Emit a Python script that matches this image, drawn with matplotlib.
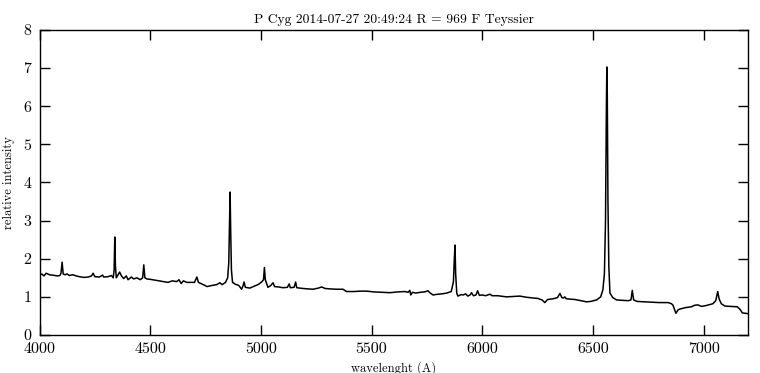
import matplotlib
matplotlib.use("Agg")
import matplotlib.pyplot as plt

plt.rcParams['font.family'] = ['cmr10', 'DejaVu Serif']
plt.rcParams['axes.unicode_minus'] = False
plt.rcParams['mathtext.fontset'] = 'cm'

wavelength = [4000, 4010, 4020, 4030, 4045, 4060, 4080, 4092, 4097, 4102, 4107, 4115, 4125, 4135,
              4150, 4165, 4180, 4200, 4220, 4235, 4242, 4250, 4270, 4285, 4290, 4310, 4325, 4333,
              4337, 4340, 4343, 4347, 4355, 4362, 4370, 4380, 4392, 4400, 4415, 4425, 4440, 4455,
              4466, 4471, 4476, 4485, 4500, 4520, 4540, 4558, 4580, 4600, 4620, 4630, 4640, 4650,
              4665, 4680, 4700, 4711, 4718, 4740, 4757, 4780, 4800, 4815, 4825, 4840, 4850, 4855,
              4858, 4861, 4864, 4867, 4872, 4885, 4900, 4913, 4920, 4924, 4930, 4950, 4970, 4990,
              5005, 5012, 5016, 5020, 5032, 5045, 5055, 5062, 5080, 5100, 5120, 5128, 5133, 5150,
              5157, 5162, 5190, 5210, 5236, 5260, 5275, 5290, 5310, 5340, 5371, 5387, 5420, 5450,
              5478, 5510, 5550, 5583, 5620, 5651, 5665, 5673, 5677, 5685, 5700, 5720, 5740, 5755,
              5765, 5778, 5800, 5820, 5840, 5860, 5870, 5874, 5877, 5880, 5885, 5890, 5905, 5915,
              5925, 5935, 5945, 5952, 5960, 5972, 5979, 5987, 6000, 6015, 6025, 6035, 6045, 6070,
              6110, 6140, 6170, 6200, 6230, 6250, 6270, 6283, 6295, 6320, 6340, 6351, 6360, 6367,
              6373, 6380, 6420, 6471, 6490, 6517, 6535, 6545, 6552, 6557, 6561, 6563, 6565, 6568,
              6572, 6577, 6590, 6607, 6630, 6660, 6672, 6678, 6684, 6700, 6735, 6760, 6800, 6840,
              6855, 6862, 6875, 6885, 6893, 6920, 6945, 6960, 6974, 6990, 7010, 7042, 7055, 7064,
              7070, 7080, 7096, 7120, 7152, 7165, 7175, 7200]

intensity = [1.57, 1.60, 1.55, 1.62, 1.58, 1.57, 1.55, 1.56, 1.62, 1.91, 1.60, 1.58, 1.60, 1.56,
             1.58, 1.55, 1.53, 1.51, 1.52, 1.55, 1.62, 1.53, 1.52, 1.57, 1.52, 1.53, 1.56, 1.50,
             1.70, 2.57, 1.80, 1.50, 1.58, 1.65, 1.55, 1.48, 1.55, 1.45, 1.52, 1.47, 1.50, 1.45,
             1.50, 1.84, 1.50, 1.47, 1.46, 1.44, 1.42, 1.40, 1.38, 1.42, 1.40, 1.45, 1.35, 1.42,
             1.38, 1.38, 1.38, 1.52, 1.38, 1.32, 1.27, 1.30, 1.32, 1.37, 1.32, 1.38, 1.50, 1.90,
             2.80, 3.75, 2.60, 1.70, 1.38, 1.33, 1.30, 1.20, 1.30, 1.39, 1.25, 1.23, 1.28, 1.33,
             1.40, 1.45, 1.77, 1.45, 1.25, 1.30, 1.37, 1.27, 1.26, 1.24, 1.25, 1.34, 1.24, 1.25,
             1.39, 1.24, 1.22, 1.21, 1.20, 1.23, 1.26, 1.22, 1.21, 1.20, 1.20, 1.14, 1.14, 1.15,
             1.15, 1.13, 1.12, 1.11, 1.13, 1.14, 1.12, 1.17, 1.05, 1.12, 1.10, 1.12, 1.13, 1.16,
             1.10, 1.05, 1.07, 1.08, 1.10, 1.14, 1.40, 2.00, 2.36, 1.60, 1.10, 1.02, 1.06, 1.05,
             1.08, 1.02, 1.05, 1.11, 1.03, 1.05, 1.16, 1.04, 1.05, 1.03, 1.05, 1.07, 1.03, 1.03,
             1.00, 1.01, 1.02, 0.99, 0.97, 0.96, 0.92, 0.85, 0.93, 0.95, 0.98, 1.09, 0.98, 0.97,
             1.00, 0.95, 0.93, 0.87, 0.88, 0.92, 1.00, 1.18, 1.60, 3.00, 6.00, 7.03, 6.30, 3.50,
             1.80, 1.10, 0.98, 0.92, 0.91, 0.90, 0.92, 1.17, 0.92, 0.88, 0.87, 0.86, 0.85, 0.85,
             0.82, 0.78, 0.57, 0.66, 0.68, 0.72, 0.74, 0.78, 0.79, 0.75, 0.77, 0.82, 0.90, 1.14,
             0.95, 0.82, 0.76, 0.75, 0.74, 0.67, 0.58, 0.56]

x_ticks = [4000, 4500, 5000, 5500, 6000, 6500, 7000]
y_ticks = [0, 1, 2, 3, 4, 5, 6, 7, 8]

fig = plt.figure(figsize=(7.6, 3.73), dpi=100)
ax = fig.add_axes([0.052, 0.1019, 0.932, 0.8177])
ax.plot(wavelength, intensity, color='black', linewidth=1.1)
ax.set_xlim(4000, 7200)
ax.set_ylim(0, 8)
ax.set_xticks(x_ticks)
ax.set_yticks(y_ticks)
ax.tick_params(direction='in', length=7, width=1, top=True, right=True, labelsize=11.5, pad=5)
ax.tick_params(axis='y', pad=6)
for s in ax.spines.values():
    s.set_linewidth(1)
ax.set_title('P Cyg 2014-07-27 20:49:24 R = 969 F Teyssier', fontsize=9.8, pad=5)
ax.set_xlabel('wavelenght (A)', fontsize=9, labelpad=4)
ax.set_ylabel('relative intensity', fontsize=9, labelpad=6)
fig.savefig('out.png', dpi=100)
